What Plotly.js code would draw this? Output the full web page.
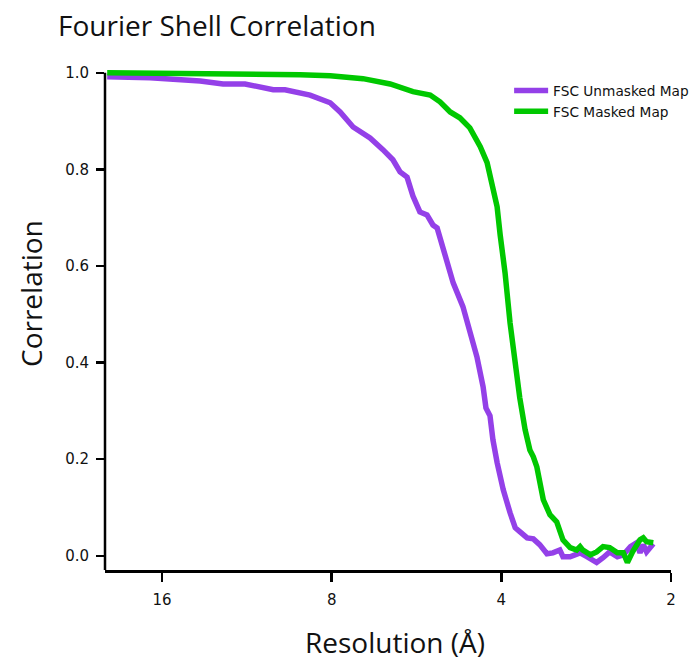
<!DOCTYPE html>
<html>
<head>
<meta charset="utf-8">
<script src="https://cdn.plot.ly/plotly-3.0.1.min.js"></script>
<style>
  html, body { margin: 0; padding: 0; background: #ffffff; }
  #chart { width: 694px; height: 664px; }
</style>
</head>
<body>
<div id="chart"></div>
<script>
// Resolution (Å) and correlation
const resUnmasked = [20.02, 16.80, 13.69, 12.47, 11.40, 10.59, 10.16, 9.68, 9.21, 8.74, 8.05, 7.73, 7.33, 6.84, 6.49, 6.23, 6.05, 5.88, 5.74, 5.58, 5.42, 5.29, 5.20, 5.08, 4.97, 4.87, 4.68, 4.55, 4.42, 4.31, 4.26, 4.19, 4.14, 4.07, 3.97, 3.86, 3.78, 3.71, 3.60, 3.51, 3.42, 3.32, 3.24, 3.15, 3.11, 3.02, 2.90, 2.82, 2.71, 2.64, 2.57, 2.49, 2.43, 2.36, 2.30, 2.27, 2.24, 2.21, 2.18, 2.15];
const fscUnmasked = [0.992, 0.990, 0.983, 0.977, 0.977, 0.970, 0.965, 0.965, 0.959, 0.954, 0.938, 0.919, 0.888, 0.865, 0.841, 0.820, 0.795, 0.784, 0.745, 0.712, 0.706, 0.685, 0.679, 0.640, 0.602, 0.565, 0.516, 0.468, 0.412, 0.350, 0.306, 0.290, 0.240, 0.193, 0.137, 0.089, 0.058, 0.050, 0.037, 0.035, 0.023, 0.004, 0.006, 0.012, -0.002, -0.002, 0.006, -0.002, -0.014, -0.004, 0.008, -0.002, 0.002, 0.019, 0.027, 0.006, 0.023, 0.008, 0.019, 0.025];

const resMasked = [20.02, 13.69, 9.10, 8.05, 7.04, 6.30, 5.98, 5.74, 5.35, 5.14, 4.93, 4.74, 4.55, 4.36, 4.24, 4.14, 4.07, 4.02, 3.97, 3.94, 3.86, 3.78, 3.71, 3.63, 3.56, 3.51, 3.46, 3.37, 3.28, 3.19, 3.11, 3.02, 2.94, 2.90, 2.87, 2.78, 2.71, 2.64, 2.57, 2.49, 2.43, 2.39, 2.34, 2.27, 2.24, 2.21, 2.15];
const fscMasked = [1.000, 0.999, 0.996, 0.994, 0.988, 0.977, 0.969, 0.961, 0.954, 0.940, 0.919, 0.907, 0.886, 0.847, 0.814, 0.764, 0.723, 0.665, 0.619, 0.586, 0.482, 0.391, 0.327, 0.261, 0.219, 0.205, 0.184, 0.116, 0.085, 0.070, 0.033, 0.017, 0.012, 0.019, 0.012, 0.002, 0.008, 0.019, 0.017, 0.006, 0.006, -0.014, 0.008, 0.033, 0.037, 0.029, 0.027];

const seriesNames = ['FSC Unmasked Map', 'FSC Masked Map'];
const xTickVals = [16, 8, 4, 2];
const xTickText = ['16', '8', '4', '2'];
const yTickVals = [0, 0.2, 0.4, 0.6, 0.8, 1.0];
const yTickText = ['0.0', '0.2', '0.4', '0.6', '0.8', '1.0'];

const yMin = -0.0295, yMax = 1.008;

const traces = [
  { x: resUnmasked, y: fscUnmasked, name: seriesNames[0], type: 'scatter', mode: 'lines',
    line: { color: '#9440E8', width: 5.5 } },
  { x: resMasked, y: fscMasked, name: seriesNames[1], type: 'scatter', mode: 'lines',
    line: { color: '#00C800', width: 5.5 } }
];

const layout = {
  width: 694, height: 664,
  margin: { l: 105, r: 23, t: 69, b: 94, autoexpand: false },
  paper_bgcolor: '#ffffff', plot_bgcolor: '#ffffff',
  title: { text: 'Fourier Shell Correlation', xref: 'container', x: 58/694, xanchor: 'left',
           yref: 'container', y: 1 - 26/664, yanchor: 'middle',
           font: { family: 'Open Sans', size: 28, color: '#111111' } },
  showlegend: true,
  legend: { x: 0.714, y: 0.988, xanchor: 'left', yanchor: 'top', bgcolor: 'rgba(0,0,0,0)',
            itemwidth: 34,
            font: { family: 'DejaVu Sans', size: 13.7, color: '#111111' } },
  xaxis: { type: 'log', range: [Math.log10(20.2), Math.log10(2)],
           showline: true, linecolor: '#000000', linewidth: 2.5,
           ticks: 'outside', ticklen: 9, tickwidth: 2.5, tickcolor: '#000000',
           tickvals: xTickVals, ticktext: xTickText, ticklabelstandoff: 5,
           tickfont: { family: 'DejaVu Sans', size: 15, color: '#111111' },
           showgrid: false, zeroline: false },
  yaxis: { range: [yMin, yMax], showline: false,
           ticks: 'outside', ticklen: 8, tickwidth: 2.5, tickcolor: '#000000',
           tickvals: yTickVals, ticktext: yTickText, ticklabelstandoff: 4,
           tickfont: { family: 'DejaVu Sans', size: 15, color: '#111111' },
           showgrid: false, zeroline: false },
  shapes: [
    { type: 'line', xref: 'paper', yref: 'y', x0: 0, x1: 0, y0: yMin, y1: 1.0,
      line: { color: '#000000', width: 2.5 } }
  ],
  annotations: [
    { text: 'Correlation', xref: 'paper', yref: 'paper', x: (31 - 105) / 566, y: (570 - 293) / 501,
      xanchor: 'center', yanchor: 'middle', textangle: -90, showarrow: false,
      font: { family: 'Open Sans', size: 28, color: '#111111' } },
    { text: 'Resolution (Å)', xref: 'paper', yref: 'paper', x: (395 - 105) / 566, y: (570 - 642) / 501,
      xanchor: 'center', yanchor: 'middle', showarrow: false,
      font: { family: 'Open Sans', size: 28, color: '#111111' } }
  ]
};

Plotly.newPlot('chart', traces, layout, { displayModeBar: false, staticPlot: true });
</script>
</body>
</html>
